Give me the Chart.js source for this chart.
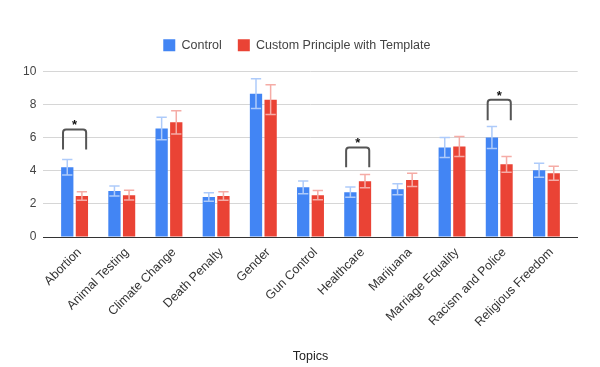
<!DOCTYPE html>
<html>
<head>
<meta charset="utf-8">
<script src="https://cdn.jsdelivr.net/npm/chart.js@4/dist/chart.umd.min.js"></script>
<style>
html,body{margin:0;padding:0;background:#fff;}
#wrap{width:600px;height:367px;position:relative;}
</style>
</head>
<body>
<div id="wrap"><canvas id="c" width="600" height="367"></canvas></div>
<script>
const categories = ['Abortion','Animal Testing','Climate Change','Death Penalty','Gender','Gun Control','Healthcare','Marijuana','Marriage Equality','Racism and Police','Religious Freedom'];
const controlValues = [4.21,2.78,6.55,2.42,8.66,3.00,2.71,2.89,5.41,6.01,4.03];
const controlErrors = [0.47,0.30,0.68,0.26,0.90,0.38,0.31,0.33,0.60,0.66,0.42];
const customValues  = [2.48,2.53,6.93,2.48,8.30,2.53,3.37,3.45,5.47,4.39,3.85];
const customErrors  = [0.26,0.30,0.70,0.26,0.90,0.28,0.40,0.40,0.60,0.48,0.42];
const yTicks = [0,2,4,6,8,10];
const sigCategories = ['Abortion','Healthcare','Racism and Police'];
const sigTop = [6.49,5.41,8.30];
const sigLegBottom = [5.29,4.21,7.05];
const sigStar = [6.95,5.85,8.66];

const FONT = "'Liberation Sans', Arial, sans-serif";

const errorBars = {
  id:'errorBars',
  afterDatasetsDraw(chart){
    const ctx = chart.ctx, y = chart.scales.y;
    const sets = [[controlErrors,'#aecbfa'],[customErrors,'#f5aca6']];
    chart.data.datasets.forEach((ds,di)=>{
      const meta = chart.getDatasetMeta(di);
      const [errs,col] = sets[di];
      meta.data.forEach((bar,i)=>{
        const v = ds.data[i].y, e = errs[i];
        const yt = y.getPixelForValue(v+e), yb = y.getPixelForValue(v-e);
        const hw = bar.width*0.42;
        ctx.save();
        ctx.strokeStyle = col; ctx.lineWidth = 1.5;
        ctx.beginPath();
        ctx.moveTo(bar.x,yt); ctx.lineTo(bar.x,yb);
        ctx.moveTo(bar.x-hw,yt); ctx.lineTo(bar.x+hw,yt);
        ctx.moveTo(bar.x-hw,yb); ctx.lineTo(bar.x+hw,yb);
        ctx.stroke();
        ctx.restore();
      });
    });
  }
};

const sigBrackets = {
  id:'sigBrackets',
  afterDatasetsDraw(chart){
    const ctx = chart.ctx, x = chart.scales.x, y = chart.scales.y;
    sigCategories.forEach((cat,k)=>{
      const i = categories.indexOf(cat);
      const x1 = x.getPixelForValue(i-0.245), x2 = x.getPixelForValue(i+0.245);
      const yt = y.getPixelForValue(sigTop[k]), yb = y.getPixelForValue(sigLegBottom[k]);
      const r = 3;
      ctx.save();
      ctx.strokeStyle = '#555'; ctx.lineWidth = 2;
      ctx.beginPath();
      ctx.moveTo(x1,yb); ctx.lineTo(x1,yt+r);
      ctx.quadraticCurveTo(x1,yt,x1+r,yt);
      ctx.lineTo(x2-r,yt);
      ctx.quadraticCurveTo(x2,yt,x2,yt+r);
      ctx.lineTo(x2,yb);
      ctx.stroke();
      ctx.fillStyle = '#111';
      ctx.font = 'bold 13px ' + FONT;
      ctx.textAlign = 'center'; ctx.textBaseline = 'middle';
      ctx.fillText('*', (x1+x2)/2, y.getPixelForValue(sigStar[k])+3);
      ctx.restore();
    });
  }
};

const legendMargin = {
  id:'legendMargin',
  beforeInit(chart){
    const orig = chart.legend.fit;
    chart.legend.fit = function(){ orig.bind(chart.legend)(); this.height += 10; };
  }
};

new Chart(document.getElementById('c'), {
  type:'bar',
  data:{
    datasets:[
      {label:'Control', data: controlValues.map((v,i)=>({x:i,y:v})), backgroundColor:'#4285F4', borderWidth:0},
      {label:'Custom Principle with Template', data: customValues.map((v,i)=>({x:i,y:v})), backgroundColor:'#EA4335', borderWidth:0}
    ]
  },
  options:{
    responsive:false,
    animation:false,
    categoryPercentage:0.62,
    barPercentage:0.84,
    layout:{padding:{top:23,left:16,right:22.3,bottom:0}},
    plugins:{
      legend:{
        position:'top',
        labels:{boxWidth:12,boxHeight:12,padding:16,color:'#444',font:{family:FONT,size:12.5}}
      },
      tooltip:{enabled:false}
    },
    scales:{
      x:{
        type:'linear',
        offset:false,
        min:-0.663, max:10.663,
        afterBuildTicks(axis){ axis.ticks = categories.map((_,i)=>({value:i})); },
        afterFit(scale){ scale.height = 130; },
        grid:{display:false,drawTicks:false,offset:false},
        border:{display:true,color:'#333',width:1},
        ticks:{
          autoSkip:false, minRotation:45, maxRotation:45, padding:8, labelOffset:5,
          color:'#333', font:{family:FONT,size:12.5},
          callback:(v)=>categories[v]
        },
        title:{display:true,text:'Topics',color:'#222',font:{family:FONT,size:12.5},padding:{top:4,bottom:3}}
      },
      y:{
        min:0,max:10,
        afterBuildTicks(axis){ axis.ticks = yTicks.map(v=>({value:v})); },
        afterFit(scale){ scale.width = 27.3; },
        grid:{color:'#d6d6d6',drawTicks:false},
        border:{display:false},
        ticks:{padding:7,color:'#444',font:{family:FONT,size:12}}
      }
    }
  },
  plugins:[legendMargin, errorBars, sigBrackets]
});
</script>
</body>
</html>
